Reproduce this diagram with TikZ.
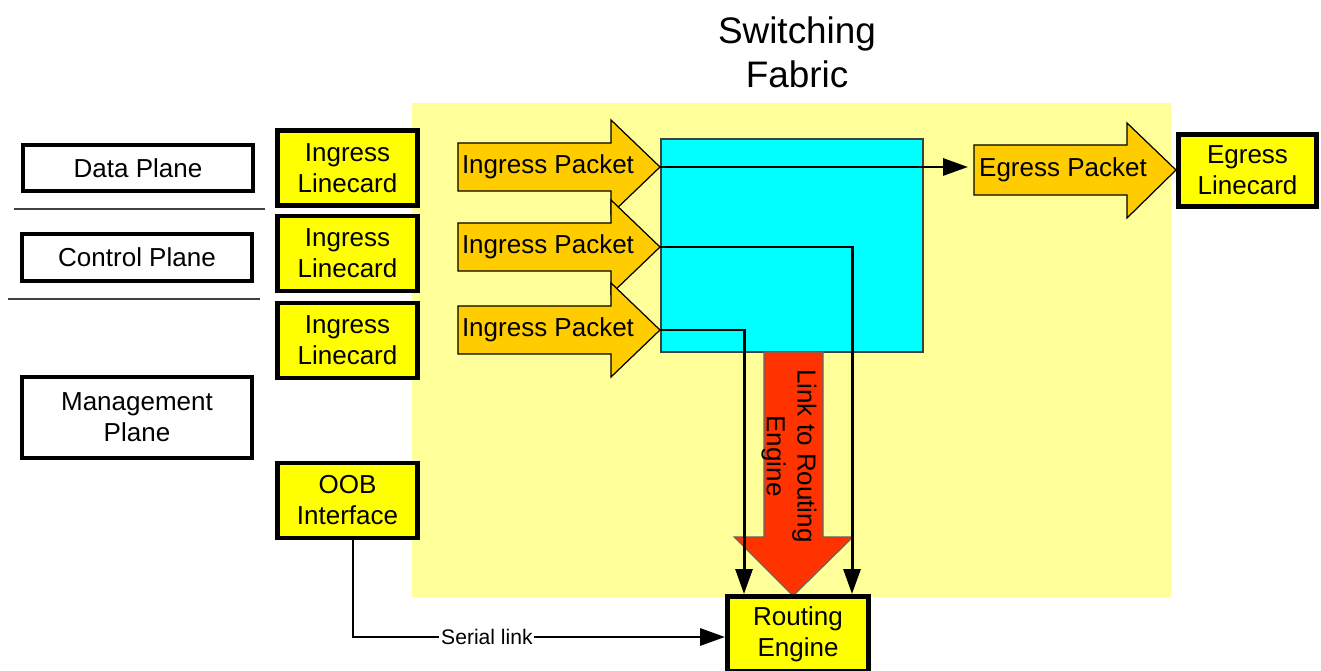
\documentclass[tikz,border=0pt]{standalone}
\usepackage{fontspec}
\setmainfont{Liberation Sans}
\usetikzlibrary{arrows.meta}
\definecolor{fabricbg}{HTML}{FFFF99}
\definecolor{cardfill}{HTML}{FFFF00}
\definecolor{packetfill}{HTML}{FFCC00}
\definecolor{corefill}{HTML}{00FFFF}
\definecolor{linkfill}{HTML}{FF3300}
\tikzset{
  plane/.style={draw, line width=2.3pt, fill=white, minimum width=4.6cm, align=center, inner sep=0pt},
  card/.style={draw, line width=2.8pt, fill=cardfill, minimum width=2.8cm, minimum height=1.5cm, align=center, inner sep=0pt},
  packet/.style={fill=packetfill, draw=black, line width=0.7pt, line join=miter},
  sep/.style={line width=1.6pt, color=black!75},
  conn/.style={-{Triangle[length=5mm, width=3.4mm]}, line width=1.7pt},
  every node/.append style={font={\fontsize{14.8}{17.6}\selectfont}}
}

\begin{document}
\begin{tikzpicture}[x=0.02cm, y=-0.02cm]
\useasboundingbox (0,0) rectangle (1321,671);
% fabric area
\fill[fabricbg] (412,103) rectangle (1171,597);
\node[font={\fontsize{21}{25}\selectfont}, align=center] (title) at (797,52) {Switching\\Fabric};
\node[draw=black!75, line width=1.1pt, fill=corefill, minimum width=5.24cm, minimum height=4.26cm] (core) at (792,245.5) {};

% planes
\node[plane, minimum height=0.92cm] (data) at (138,168) {Data Plane};
\draw[sep] (14,209) -- (265,209);
\node[plane, minimum height=0.94cm] (control) at (137,257.5) {Control Plane};
\draw[sep] (8,299) -- (260,299);
\node[plane, minimum height=1.62cm] (mgmt) at (137,417.5) {Management\\Plane};

% link to routing engine
\filldraw[fill=linkfill, draw=black!60, line width=0.6pt] (764,352) -- (823,352) -- (823,537) -- (853,537)
  -- (793,596) -- (734,537) -- (764,537) -- cycle;
\node[rotate=-90, align=center] (link) at (789,456) {Link to Routing\\Engine};

% packets
\filldraw[packet] (458,143) -- (611,143) -- (611,120) -- (660,167) -- (611,214) -- (611,191) -- (458,191) -- cycle;
\coordinate (tip1) at (660,167);
\node (pk1) at (548,167) {Ingress Packet};
\filldraw[packet] (458,223) -- (611,223) -- (611,200) -- (660,247) -- (611,294) -- (611,271) -- (458,271) -- cycle;
\coordinate (tip2) at (660,247);
\node (pk2) at (548,247) {Ingress Packet};
\filldraw[packet] (458,306) -- (611,306) -- (611,283) -- (660,330) -- (611,377) -- (611,354) -- (458,354) -- cycle;
\coordinate (tip3) at (660,330);
\node (pk3) at (548,330) {Ingress Packet};
\filldraw[packet] (974,145) -- (1127,145) -- (1127,123) -- (1176,170) -- (1127,218) -- (1127,195) -- (974,195) -- cycle;
\node (pk4) at (1063,170) {Egress Packet};

% linecards
\node[card] (in1) at (347.5,168) {Ingress\\Linecard};
\node[card] (in2) at (347.5,253.5) {Ingress\\Linecard};
\node[card] (in3) at (347.5,340.5) {Ingress\\Linecard};
\node[card] (oob) at (347.5,500.5) {OOB\\Interface};
\node[card, minimum width=2.76cm, minimum height=1.44cm] (eg) at (1247.5,170.5) {Egress\\Linecard};
\node[card, minimum width=2.82cm] (re) at (798,634) {Routing\\Engine};

% connectors
\coordinate (egtail) at (968,167);
\coordinate (re-in2) at (852,594);
\coordinate (re-in3) at (744,594);
\draw[conn] (tip1) -- (egtail);
\draw[conn] (tip2) -| (re-in2);
\draw[conn] (tip3) -| (re-in3);
\draw[conn] ([xshift=0.11cm]oob.south) |- node[pos=0.68, fill=white, inner sep=1pt, font={\fontsize{12}{14}\selectfont}] (serial) {Serial link} ([yshift=-0.06cm]re.west);
\end{tikzpicture}
\end{document}
